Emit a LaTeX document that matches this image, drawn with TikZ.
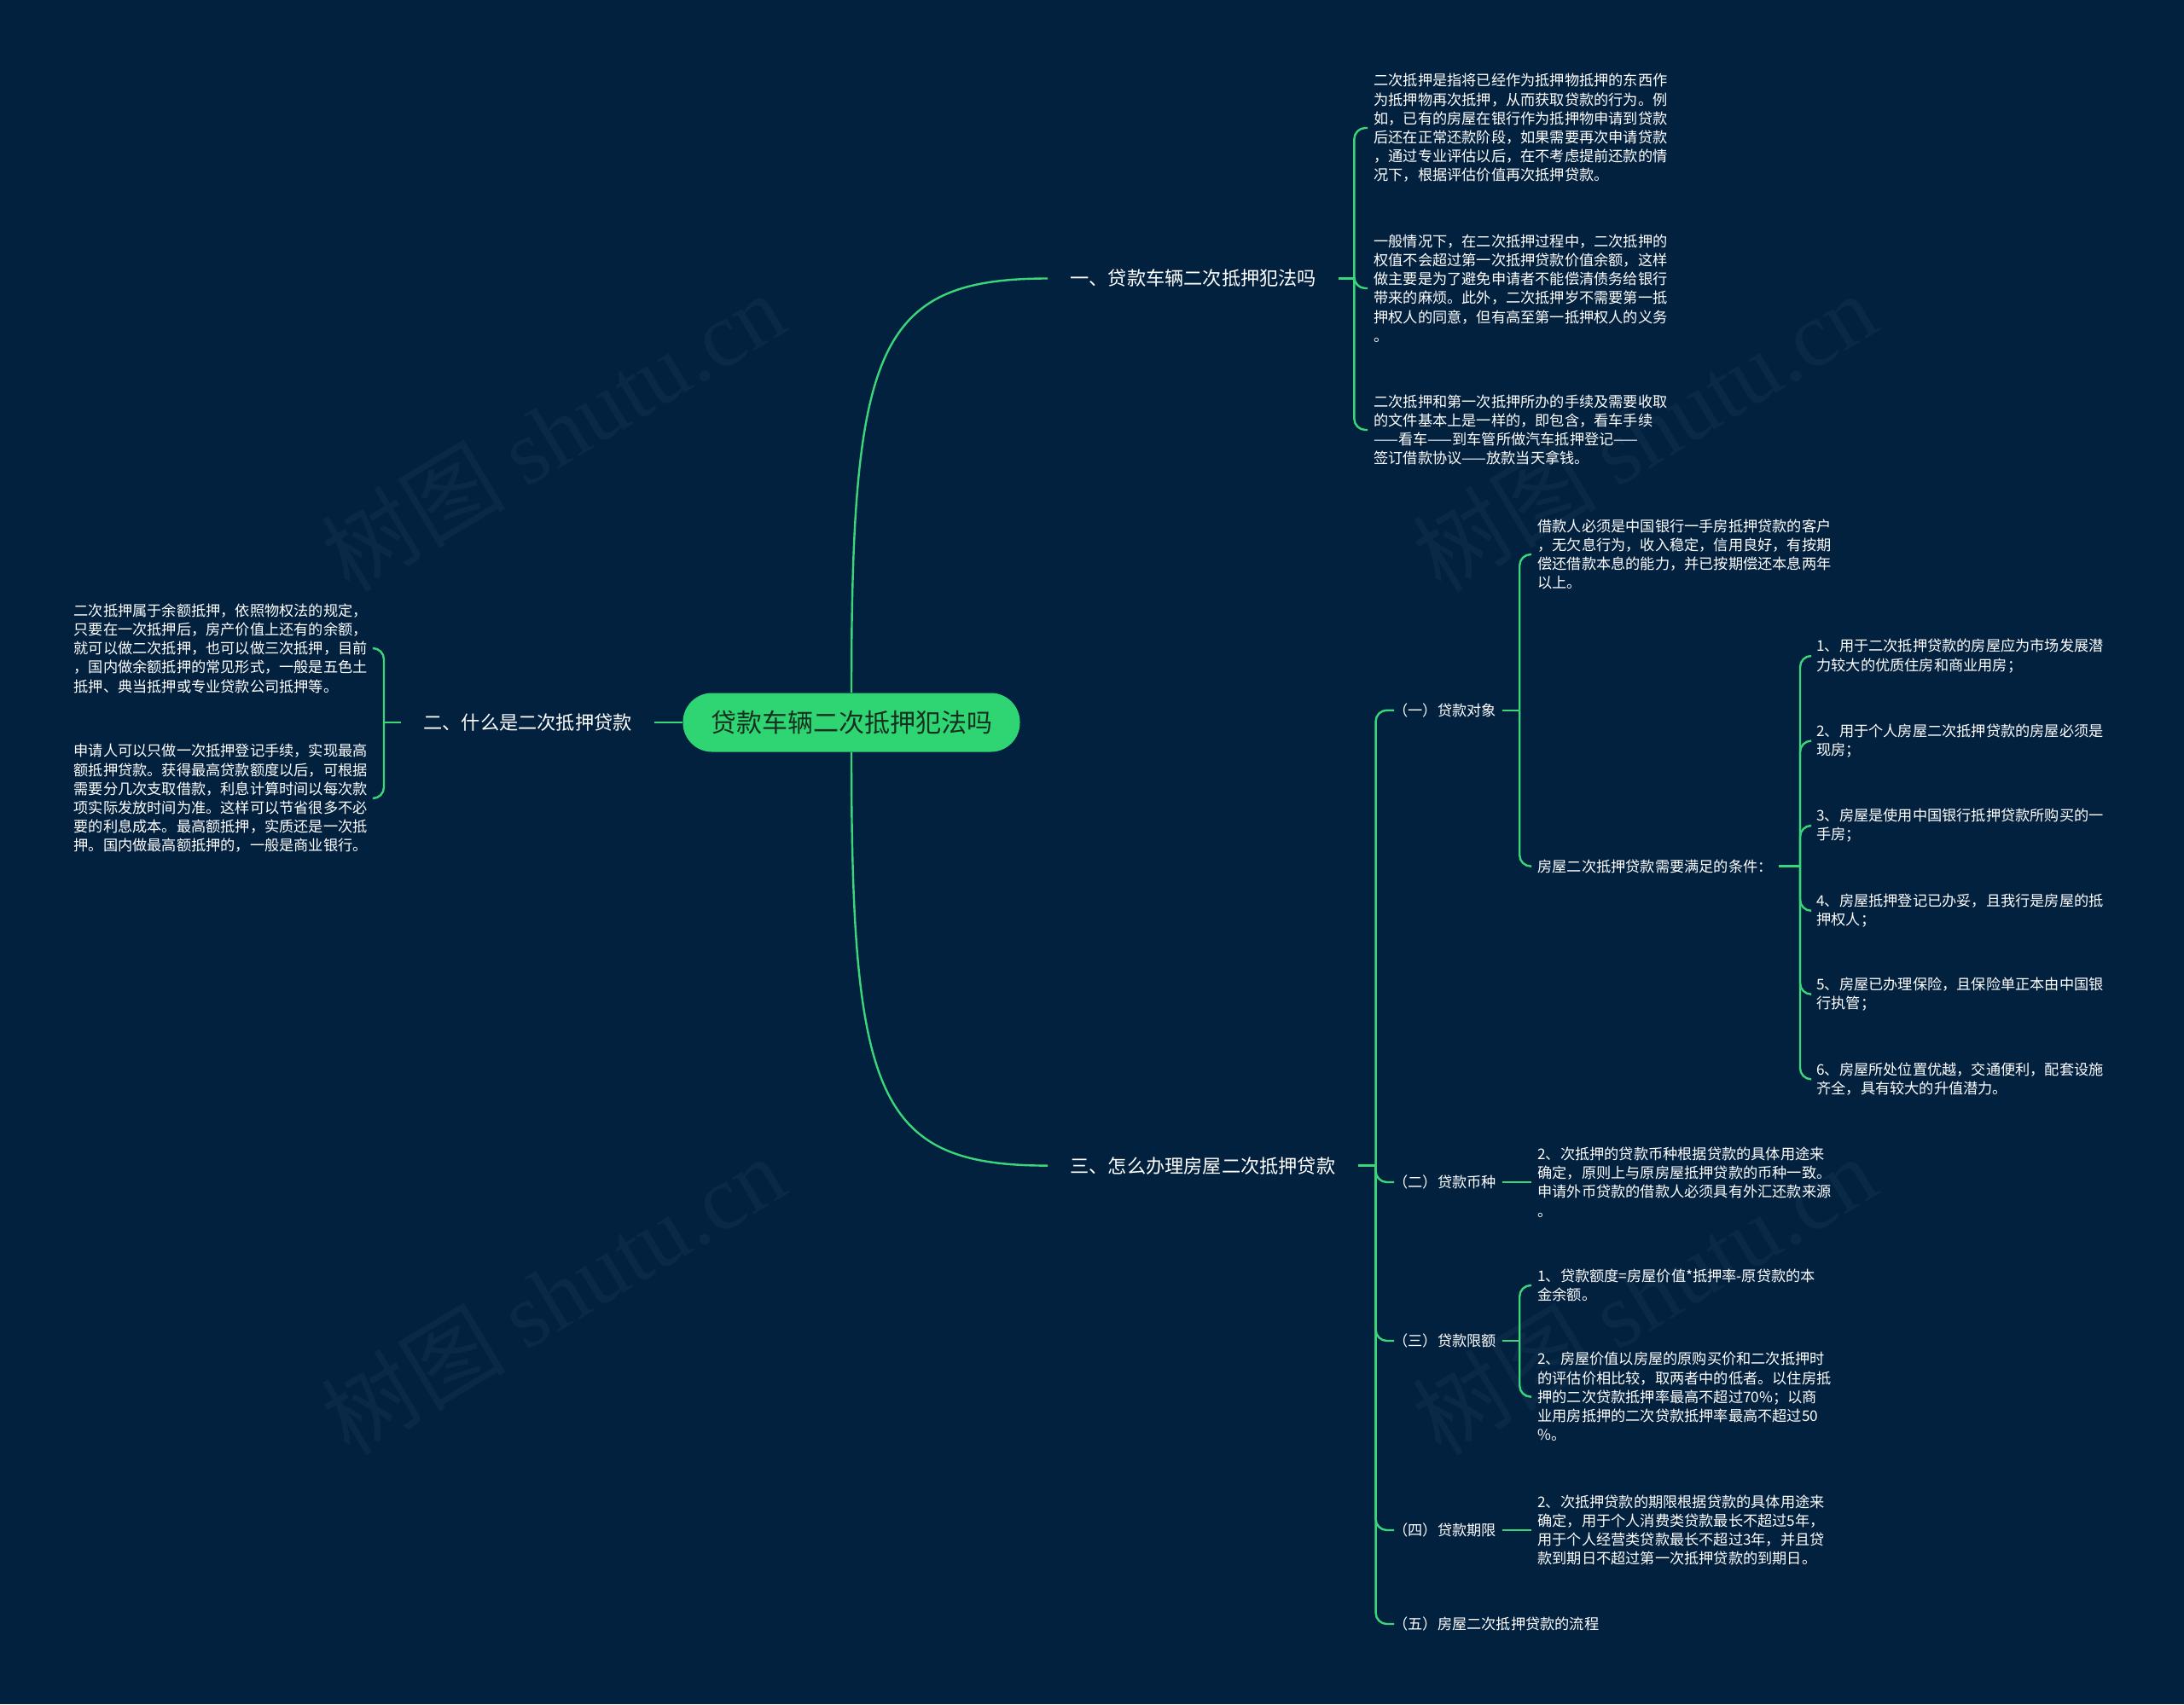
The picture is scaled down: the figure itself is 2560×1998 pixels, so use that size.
\documentclass[tikz,border=0pt]{standalone}
\usepackage{fontspec}
\setmainfont{Noto Sans CJK SC}
\newfontfamily\wmfont{Liberation Serif}
\usetikzlibrary{calc}
\definecolor{bgc}{HTML}{02213F}
\definecolor{lnc}{HTML}{3AD77A}
\definecolor{rootc}{HTML}{2FD573}
\definecolor{roottxt}{HTML}{16301F}
\definecolor{wmc}{HTML}{0A2946}
\begin{document}
\begin{tikzpicture}[x=0.5pt,y=-0.5pt,
  conn/.style={draw=lnc,line width=1.2pt},
  brk/.style={conn,rounded corners=6.5pt},
  rootnode/.style={fill=rootc,rounded corners=17pt,minimum width=197.5pt,minimum height=34.5pt,inner sep=0pt,font=\fontsize{15}{18}\selectfont,text=roottxt},
  lone/.style={inner xsep=13pt,inner ysep=2pt,font=\fontsize{11.1}{13}\selectfont,text=white},
  ltwo/.style={inner xsep=3.5pt,inner ysep=1pt,font=\fontsize{8.6}{11.1}\selectfont,text=white},
  leaf/.style={ltwo,align=left},
  wm/.style={text=wmc,rotate=31,font=\fontsize{54}{60}\selectfont,inner sep=0pt}
]
\fill[bgc] (0,0) rectangle (2560,1998);
\useasboundingbox (0,0) rectangle (2560,1998);

% watermarks
\node[wm] (w1) at (648,506) {树图 {\wmfont shutu.cn}};
\node[wm] (w2) at (648,1518) {树图 {\wmfont shutu.cn}};
\node[wm] (w3) at (1927,506) {树图 {\wmfont shutu.cn}};
\node[wm] (w4) at (1927,1518) {树图 {\wmfont shutu.cn}};

% root
\node[rootnode] (root) at (998,847) {贷款车辆二次抵押犯法吗};

% level 1
\node[lone,anchor=west] (L1a) at (1228,326.5) {一、贷款车辆二次抵押犯法吗};
\node[lone,anchor=east] (L1b) at (767,847) {二、什么是二次抵押贷款};
\node[lone,anchor=west] (L1c) at (1228,1366.6) {三、怎么办理房屋二次抵押贷款};

\draw[conn] (root.north) .. controls +(0,-405) and +(-200,0) .. (L1a.west);
\draw[conn] (root.west) -- (L1b.east);
\draw[conn] (root.south) .. controls +(0,405) and +(-200,0) .. (L1c.west);

% branch a
\node[leaf,anchor=west] (a1) at (1603,150) {二次抵押是指将已经作为抵押物抵押的东西作\\为抵押物再次抵押，从而获取贷款的行为。例\\如，已有的房屋在银行作为抵押物申请到贷款\\后还在正常还款阶段，如果需要再次申请贷款\\，通过专业评估以后，在不考虑提前还款的情\\况下，根据评估价值再次抵押贷款。};
\node[leaf,anchor=west] (a2) at (1603,338) {一般情况下，在二次抵押过程中，二次抵押的\\权值不会超过第一次抵押贷款价值余额，这样\\做主要是为了避免申请者不能偿清债务给银行\\带来的麻烦。此外，二次抵押岁不需要第一抵\\押权人的同意，但有高至第一抵押权人的义务\\。};
\node[leaf,anchor=west] (a3) at (1603,504) {二次抵押和第一次抵押所办的手续及需要收取\\的文件基本上是一样的，即包含，看车手续\\——看车——到车管所做汽车抵押登记——\\签订借款协议——放款当天拿钱。};
\coordinate (sa) at ($(L1a.east)+(18,0)$);
\draw[conn] (L1a.east) -- (sa);
\foreach \c in {a1,a2,a3} \draw[brk] (sa) |- (\c.west);

% branch b
\node[leaf,anchor=east] (b1) at (438,760) {二次抵押属于余额抵押，依照物权法的规定，\\只要在一次抵押后，房产价值上还有的余额，\\就可以做二次抵押，也可以做三次抵押，目前\\，国内做余额抵押的常见形式，一般是五色土\\抵押、典当抵押或专业贷款公司抵押等。};
\node[leaf,anchor=east] (b2) at (438,936) {申请人可以只做一次抵押登记手续，实现最高\\额抵押贷款。获得最高贷款额度以后，可根据\\需要分几次支取借款，利息计算时间以每次款\\项实际发放时间为准。这样可以节省很多不必\\要的利息成本。最高额抵押，实质还是一次抵\\押。国内做最高额抵押的，一般是商业银行。};
\coordinate (sb) at ($(L1b.west)+(-20,0)$);
\draw[conn] (L1b.west) -- (sb);
\foreach \c in {b1,b2} \draw[brk] (sb) |- (\c.east);

% branch c
\node[ltwo,anchor=west] (c1) at (1634,832.7) {\hspace{-4pt}（一）贷款对象};
\node[ltwo,anchor=west] (c2) at (1634,1386) {\hspace{-4pt}（二）贷款币种};
\node[ltwo,anchor=west] (c3) at (1634,1572) {\hspace{-4pt}（三）贷款限额};
\node[ltwo,anchor=west] (c4) at (1634,1794) {\hspace{-4pt}（四）贷款期限};
\node[ltwo,anchor=west] (c5) at (1634,1904) {\hspace{-4pt}（五）房屋二次抵押贷款的流程};
\coordinate (sc) at ($(L1c.east)+(21,0)$);
\draw[conn] (L1c.east) -- (sc);
\foreach \c in {c1,c2,c3,c4,c5} \draw[brk] (sc) |- (\c.west);

% c1 children
\node[leaf,anchor=west] (d1) at (1795,650) {借款人必须是中国银行一手房抵押贷款的客户\\，无欠息行为，收入稳定，信用良好，有按期\\偿还借款本息的能力，并已按期偿还本息两年\\以上。};
\node[ltwo,anchor=west] (d2) at (1795,1015.6) {房屋二次抵押贷款需要满足的条件：};
\coordinate (sd) at ($(c1.east)+(20,0)$);
\draw[conn] (c1.east) -- (sd);
\foreach \c in {d1,d2} \draw[brk] (sd) |- (\c.west);

% d2 children
\node[leaf,anchor=west] (e1) at (2122,769) {1、用于二次抵押贷款的房屋应为市场发展潜\\力较大的优质住房和商业用房；};
\node[leaf,anchor=west] (e2) at (2122,868.6) {2、用于个人房屋二次抵押贷款的房屋必须是\\现房；};
\node[leaf,anchor=west] (e3) at (2122,968) {3、房屋是使用中国银行抵押贷款所购买的一\\手房；};
\node[leaf,anchor=west] (e4) at (2122,1067.8) {4、房屋抵押登记已办妥，且我行是房屋的抵\\押权人；};
\node[leaf,anchor=west] (e5) at (2122,1165.7) {5、房屋已办理保险，且保险单正本由中国银\\行执管；};
\node[leaf,anchor=west] (e6) at (2122,1265.3) {6、房屋所处位置优越，交通便利，配套设施\\齐全，具有较大的升值潜力。};
\coordinate (se) at ($(d2.east)+(25,0)$);
\draw[conn] (d2.east) -- (se);
\foreach \c in {e1,e2,e3,e4,e5,e6} \draw[brk] (se) |- (\c.west);

% c2 child
\node[leaf,anchor=west] (g1) at (1795,1386) {2、次抵押的贷款币种根据贷款的具体用途来\\确定，原则上与原房屋抵押贷款的币种一致。\\申请外币贷款的借款人必须具有外汇还款来源\\。};
\draw[conn] (c2.east) -- (g1.west);

% c3 children
\node[leaf,anchor=west] (f1) at (1795,1507) {1、贷款额度=房屋价值*抵押率-原贷款的本\\金余额。};
\node[leaf,anchor=west] (f2) at (1795,1637.6) {2、房屋价值以房屋的原购买价和二次抵押时\\的评估价相比较，取两者中的低者。以住房抵\\押的二次贷款抵押率最高不超过70\%；以商\\业用房抵押的二次贷款抵押率最高不超过50\\\%。};
\coordinate (sf) at ($(c3.east)+(20,0)$);
\draw[conn] (c3.east) -- (sf);
\foreach \c in {f1,f2} \draw[brk] (sf) |- (\c.west);

% c4 child
\node[leaf,anchor=west] (h1) at (1795,1794) {2、次抵押贷款的期限根据贷款的具体用途来\\确定，用于个人消费类贷款最长不超过5年，\\用于个人经营类贷款最长不超过3年，并且贷\\款到期日不超过第一次抵押贷款的到期日。};
\draw[conn] (c4.east) -- (h1.west);
\end{tikzpicture}
\end{document}
